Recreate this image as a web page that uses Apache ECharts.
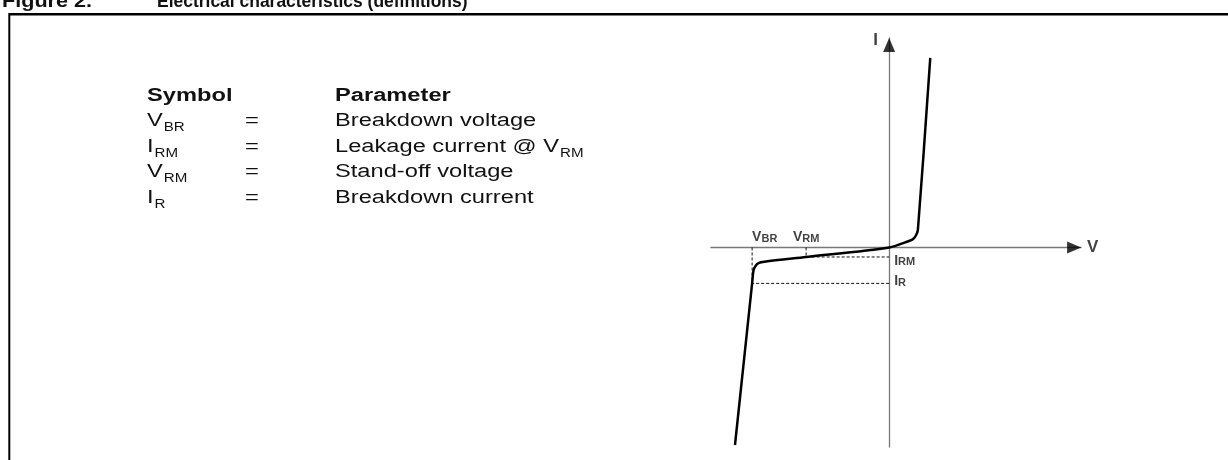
<!DOCTYPE html>
<html lang="en">
<head>
    <meta charset="UTF-8">
    <title>Electrical characteristics (definitions)</title>
    <style>
        html, body { margin: 0; padding: 0; background: #fff; }
        #main { width: 1228px; height: 460px; }
    </style>
</head>
<body>
    <div id="main"></div>
    <script src="https://cdn.jsdelivr.net/npm/echarts@6/dist/echarts.min.js"></script>
    <script>
        // I-V curve (schematic): V on x, I on y
        var curveV = [3.0, 2.1, 1.95, 1.75, 1.5, 0, -6.06, -9.1, -9.5, -9.75, -9.9, -10, -11.25];
        var curveI = [19.0, 1.8, 1.2, 0.85, 0.68, 0, -0.95, -1.42, -1.55, -1.85, -2.3, -3.6, -19.8];
        // characteristic points
        var vBR = -10, vRM = -6.06, iRM = -0.95, iR = -3.6;
        // table of symbols
        var symbols = [['V', 'BR'], ['I', 'RM'], ['V', 'RM'], ['I', 'R']];
        var params = [['Breakdown voltage', ''], ['Leakage current @ V', 'RM'], ['Stand-off voltage', ''], ['Breakdown current', '']];
        var rowBase = [128, 153.5, 179, 204.5];

        var FONT = "'Liberation Sans', Arial, sans-serif";
        var ctx = document.createElement('canvas').getContext('2d');
        function textWidth(str, size, bold) {
            ctx.font = (bold ? 'bold ' : '') + size + 'px ' + FONT;
            return ctx.measureText(str).width;
        }

        var SX = 1.26;     // the figure is wider than the font
        var FS = 18.8, SUB = 12;
        // text placed by its baseline
        function txt(x, base, str, size, bold, sx) {
            return {
                type: 'text', x: x, y: base + size * 0.15, scaleX: sx || 1,
                style: {
                    text: str, fill: '#111',
                    font: (bold ? 'bold ' : '') + size + 'px ' + FONT,
                    align: 'left', verticalAlign: 'bottom'
                }
            };
        }

        var graphics = [
            // frame
            { type: 'line', shape: { x1: 9, y1: 14.3, x2: 1228, y2: 14.3 }, style: { stroke: '#000', lineWidth: 2.5 } },
            { type: 'line', shape: { x1: 9.3, y1: 13, x2: 9.3, y2: 460 }, style: { stroke: '#000', lineWidth: 2 } },
            // title, cut by the top edge
            txt(2, 8.5, 'Figure 2.', 18, true, 1.2),
            txt(157, 8.5, 'Electrical characteristics (definitions)', 18, true, 0.97),
            txt(147, 103, 'Symbol', FS, true, SX),
            txt(335, 103, 'Parameter', FS, true, SX)
        ];
        symbols.forEach(function (s, i) {
            var b = rowBase[i];
            graphics.push(txt(147, b, s[0], FS, false, SX));
            graphics.push(txt(147 + textWidth(s[0], FS) * SX + 1, b + 4, s[1], SUB, false, SX));
            graphics.push(txt(245, b, '=', FS, false, SX));
            graphics.push(txt(335, b, params[i][0], FS, false, SX));
            if (params[i][1]) {
                graphics.push(txt(335 + textWidth(params[i][0], FS) * SX + 1, b + 4, params[i][1], SUB, false, SX));
            }
        });

        var curve = curveV.map(function (v, i) { return [v, curveI[i]]; });

        var labelRich = {
            m: { fontSize: 14, fontWeight: 'bold', fontFamily: FONT, color: '#111', verticalAlign: 'bottom' },
            s: { fontSize: 11, fontWeight: 'bold', fontFamily: FONT, color: '#111', verticalAlign: 'bottom' },
            a: { fontSize: 17, fontWeight: 'bold', fontFamily: FONT, color: '#111' }
        };
        function mark(v, i, name, pos, align, vAlign) {
            return {
                value: [v, i],
                label: { show: true, formatter: name, position: pos, align: align, verticalAlign: vAlign, rich: labelRich }
            };
        }

        var chart = echarts.init(document.getElementById('main'));
        var option = {
            animation: false,
            grid: { left: 711, right: 147, top: 38, bottom: 13 },
            graphic: graphics,
            xAxis: {
                type: 'value', min: -13, max: 14,
                axisLine: { onZero: true, lineStyle: { color: '#777', width: 1.3 } },
                axisTick: { show: false }, axisLabel: { show: false }, splitLine: { show: false }
            },
            yAxis: {
                type: 'value', min: -20, max: 21,
                axisLine: { onZero: true, lineStyle: { color: '#777', width: 1.3 } },
                axisTick: { show: false }, axisLabel: { show: false }, splitLine: { show: false }
            },
            series: [
                {
                    type: 'line', data: [[vBR, 0], [vBR, iR], [0, iR]], symbol: 'none',
                    lineStyle: { color: '#111', width: 1, type: [3, 2] }
                },
                {
                    type: 'line', data: [[vRM, 0], [vRM, iRM], [0, iRM]], symbol: 'none',
                    lineStyle: { color: '#111', width: 1, type: [3, 2] }
                },
                {
                    type: 'line', data: curve, symbol: 'none', smooth: 0.3,
                    lineStyle: { color: '#000', width: 2.5 }
                },
                {
                    // axis arrow heads
                    type: 'scatter', symbol: 'triangle', symbolSize: [12, 14],
                    itemStyle: { color: '#000' },
                    data: [
                        { value: [13.5, 0], symbolRotate: -90 },
                        { value: [0, 20.3] }
                    ]
                },
                {
                    type: 'scatter', symbolSize: 0, silent: true,
                    data: [
                        mark(vBR, 0, '{m|V}{s|BR}', [0, -3], 'left', 'bottom'),
                        mark(vRM, 0, '{m|V}{s|RM}', [0, -3], 'center', 'bottom'),
                        mark(0, iRM, '{m|I}{s|RM}', [5, -3], 'left', 'top'),
                        mark(0, iR, '{m|I}{s|R}', [5, -9], 'left', 'top'),
                        mark(14, 0, '{a|V}', [6, 0], 'left', 'middle'),
                        mark(0, 21, '{a|I}', [-16, -6], 'left', 'top')
                    ]
                }
            ]
        };
        option && chart.setOption(option);
    </script>
</body>
</html>
